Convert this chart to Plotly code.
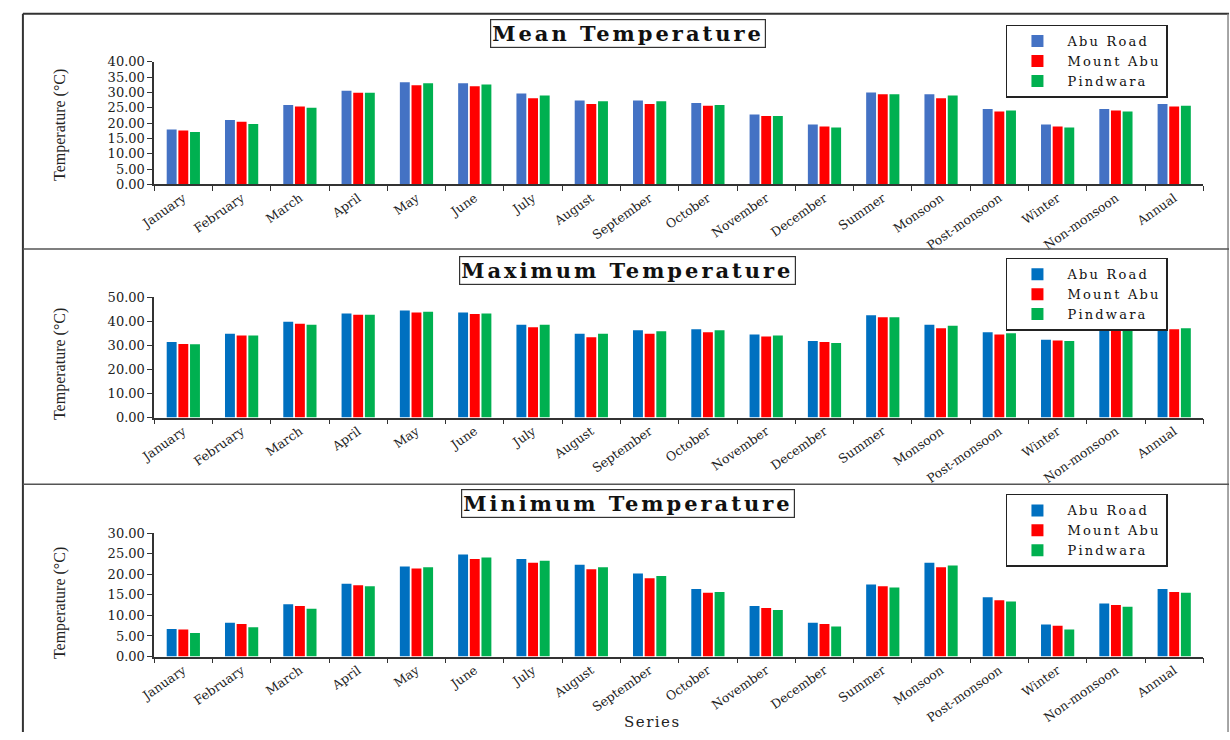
import plotly.graph_objects as go

categories = ["January", "February", "March", "April", "May", "June", "July", "August",
              "September", "October", "November", "December", "Summer", "Monsoon",
              "Post-monsoon", "Winter", "Non-monsoon", "Annual"]
stations = ["Abu Road", "Mount Abu", "Pindwara"]

mean_abu_road = [17.9, 21.0, 25.9, 30.6, 33.3, 33.0, 29.7, 27.4, 27.4, 26.6, 22.8, 19.5, 30.0, 29.4, 24.6, 19.5, 24.6, 26.2]
mean_mount_abu = [17.6, 20.4, 25.4, 29.9, 32.4, 32.0, 28.1, 26.2, 26.2, 25.7, 22.3, 18.9, 29.4, 28.1, 23.8, 18.9, 24.1, 25.4]
mean_pindwara = [17.1, 19.7, 25.0, 29.9, 33.0, 32.6, 29.0, 27.1, 27.1, 25.9, 22.3, 18.6, 29.4, 29.0, 24.1, 18.6, 23.8, 25.7]

max_abu_road = [31.3, 34.8, 39.7, 43.2, 44.4, 43.6, 38.5, 34.8, 36.2, 36.6, 34.4, 31.7, 42.4, 38.5, 35.4, 32.3, 37.0, 37.4]
max_mount_abu = [30.5, 34.0, 38.9, 42.6, 43.6, 42.9, 37.4, 33.3, 34.8, 35.4, 33.6, 31.3, 41.6, 37.0, 34.4, 31.9, 36.2, 36.6]
max_pindwara = [30.4, 34.0, 38.5, 42.6, 43.9, 43.2, 38.5, 34.8, 35.8, 36.2, 34.0, 30.9, 41.6, 38.1, 35.0, 31.7, 36.2, 37.0]

min_abu_road = [6.7, 8.2, 12.7, 17.7, 21.9, 24.8, 23.7, 22.3, 20.2, 16.4, 12.3, 8.2, 17.5, 22.8, 14.4, 7.8, 12.9, 16.4]
min_mount_abu = [6.6, 7.9, 12.3, 17.3, 21.4, 23.7, 22.8, 21.2, 19.0, 15.5, 11.8, 7.9, 17.1, 21.7, 13.7, 7.5, 12.5, 15.7]
min_pindwara = [5.7, 7.1, 11.6, 17.1, 21.7, 24.1, 23.3, 21.7, 19.6, 15.7, 11.3, 7.3, 16.8, 22.1, 13.4, 6.6, 12.1, 15.5]

panel_titles = ["Mean Temperature", "Maximum Temperature", "Minimum Temperature"]
y_title = "Temperature (°C)"
x_title = "Series"

W, H = 1230, 740
def px_x(v):
    return v / W
def px_y(v):
    return 1 - v / H

def spaced(t, sp):
    return f'<span style="letter-spacing:{sp}px">{t}</span>'

panels = [
    dict(data=[mean_abu_road, mean_mount_abu, mean_pindwara],
         colors=["#4472C4", "#FF0000", "#00B050"], rng=[0, 40], dtick=5,
         top=56, bottom=181, title_y=27, legend_top=18, ytitle_y=120),
    dict(data=[max_abu_road, max_mount_abu, max_pindwara],
         colors=["#0070C0", "#FF0000", "#00B050"], rng=[0, 50], dtick=10,
         top=296, bottom=419, title_y=269, legend_top=256, ytitle_y=364),
    dict(data=[min_abu_road, min_mount_abu, min_pindwara],
         colors=["#0070C0", "#FF0000", "#00B050"], rng=[0, 30], dtick=5,
         top=537, bottom=663, title_y=507, legend_top=497, ytitle_y=608),
]

fig = go.Figure()
serif = "DejaVu Serif"
layout = dict(
    width=W, height=H, margin=dict(l=0, r=0, t=0, b=0),
    paper_bgcolor="white", plot_bgcolor="white",
    barmode="group", bargap=0.4, bargroupgap=0.15,
    font=dict(family=serif, color="#222"),
    showlegend=True,
)
annotations = []
xdom = [px_x(140), px_x(1203)]
for i, p in enumerate(panels):
    n = i + 1
    xa = "x" if n == 1 else f"x{n}"
    ya = "y" if n == 1 else f"y{n}"
    lg = "legend" if n == 1 else f"legend{n}"
    for s, vals, col in zip(stations, p["data"], p["colors"]):
        fig.add_trace(go.Bar(x=categories, y=vals, name=spaced(s, 2.2),
                             marker=dict(color=col, line=dict(width=0)),
                             xaxis=xa, yaxis=ya, legend=lg))
    layout["xaxis" if n == 1 else f"xaxis{n}"] = dict(
        domain=xdom, anchor=ya, type="category", showline=True, linecolor="#333", linewidth=1.5,
        ticks="outside", ticklen=5, tickcolor="#333", tickson="boundaries", tickangle=-35,
        tickfont=dict(family=serif, size=12.5, color="#222"), showgrid=False, zeroline=False)
    layout["yaxis" if n == 1 else f"yaxis{n}"] = dict(
        domain=[px_y(p["bottom"]), px_y(p["top"])], anchor=xa, range=p["rng"], dtick=p["dtick"],
        tickformat=".2f", showline=True, linecolor="#333", linewidth=1.5, ticks="outside", ticklen=5,
        tickcolor="#333", tickfont=dict(family=serif, size=13, color="#222"), showgrid=False, zeroline=False)
    layout[lg] = dict(x=px_x(1003), y=px_y(p["legend_top"]), xanchor="left", yanchor="top",
                      bordercolor="#222", borderwidth=1.5, bgcolor="white",
                      font=dict(family=serif, size=13, color="#111"), tracegroupgap=0,
                      itemwidth=50)
    annotations.append(dict(text=f"<b>{spaced(panel_titles[i], 3)}</b>", x=px_x(620), y=px_y(p["title_y"]),
                            xref="paper", yref="paper", showarrow=False, xanchor="center", yanchor="middle",
                            font=dict(family=serif, size=21, color="#111"),
                            bordercolor="#333", borderwidth=1.2, borderpad=1, bgcolor="white"))
    annotations.append(dict(text=y_title, x=px_x(44), y=px_y(p["ytitle_y"]), xref="paper", yref="paper",
                            showarrow=False, textangle=-90, xanchor="center", yanchor="middle",
                            font=dict(family="Liberation Serif", size=16, color="#222")))
annotations.append(dict(text=spaced(x_title, 1.5), x=px_x(645), y=px_y(730), xref="paper", yref="paper",
                        showarrow=False, xanchor="center", yanchor="middle",
                        font=dict(family=serif, size=15, color="#222")))
layout["annotations"] = annotations
line = dict(color="#333", width=2)
layout["shapes"] = [
    dict(type="line", xref="paper", yref="paper", x0=px_x(7), x1=px_x(1229), y0=px_y(7), y1=px_y(7), line=line),
    dict(type="line", xref="paper", yref="paper", x0=px_x(7), x1=px_x(7), y0=px_y(7), y1=0, line=line),
    dict(type="line", xref="paper", yref="paper", x0=px_x(1228), x1=px_x(1228), y0=px_y(7), y1=0,
         line=dict(color="#888", width=1.5)),
    dict(type="line", xref="paper", yref="paper", x0=px_x(7), x1=px_x(1229), y0=px_y(247), y1=px_y(247),
         line=dict(color="#555", width=1.5)),
    dict(type="line", xref="paper", yref="paper", x0=px_x(7), x1=px_x(1229), y0=px_y(487), y1=px_y(487),
         line=dict(color="#555", width=1.5)),
]
fig.update_layout(**layout)
fig.write_html("out.html", config={"displayModeBar": False},
               post_script="document.body.style.margin='0';document.body.style.overflow='hidden';")
